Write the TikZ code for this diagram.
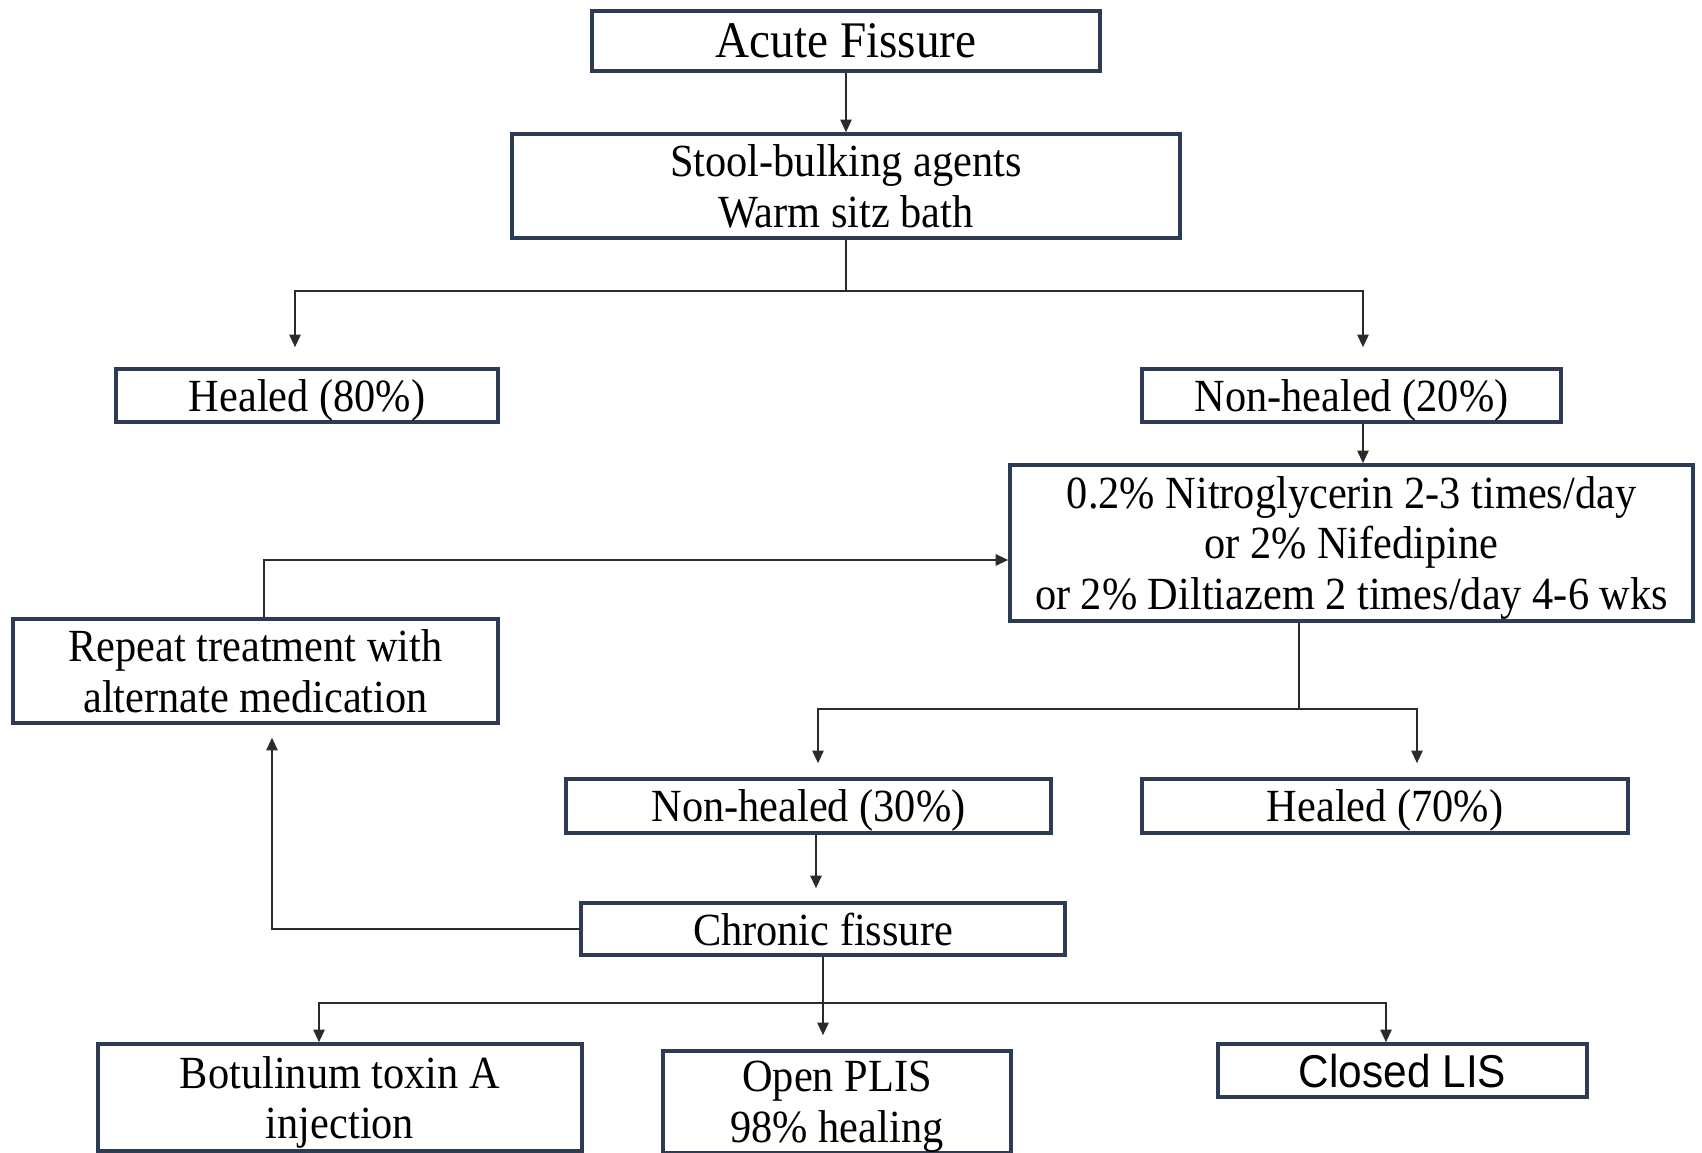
\documentclass[tikz,border=0pt]{standalone}
\usepackage{fontspec}
\setmainfont{Liberation Serif}[FakeStretch=0.92]
\setsansfont{Liberation Sans}[FakeStretch=0.92]
\usepackage{tikz}
\usetikzlibrary{positioning, arrows.meta}
\definecolor{boxE}{HTML}{2E3B55}
\definecolor{lineG}{HTML}{2B2B2B}

\begin{document}
\begin{tikzpicture}[font=\fontsize{13.1}{14.4}\selectfont,
  fbox/.style={draw=boxE, fill=white, line width=1pt, align=center,
    inner sep=0pt, text depth=0pt},
  conn/.style={draw=lineG, line width=0.6pt},
  arr/.style={conn, -{Triangle[length=3.6pt, width=3.2pt]}}]
  \useasboundingbox (0,0) rectangle (17.02,-11.53);
  % boxes: name, centre x, centre y, width, height, text
  \foreach \nm/\x/\y/\w/\h/\txt in {%
    stool/8.46/-1.86/6.68/1.04/{Stool-bulking agents\\Warm sitz bath},%
    heal80/3.07/-3.955/3.82/0.53/{Healed (80\%)},%
    non20/13.515/-3.955/4.19/0.53/{Non-healed (20\%)},%
    nitro/13.515/-5.43/6.83/1.56/{0.2\% Nitroglycerin 2-3 times/day\\or 2\% Nifedipine\\or 2\% Diltiazem 2 times/day 4-6 wks},%
    repeat/2.555/-6.71/4.85/1.04/{Repeat treatment with\\alternate medication},%
    non30/8.085/-8.06/4.85/0.54/{Non-healed (30\%)},%
    heal70/13.85/-8.06/4.86/0.54/{Healed (70\%)},%
    chronic/8.23/-9.29/4.84/0.52/{Chronic fissure},%
    botox/3.40/-10.975/4.84/1.07/{Botulinum toxin A\\injection},%
    plis/8.37/-11.02/3.48/1.02/{Open PLIS\\98\% healing}}{%
      \node[fbox, minimum width=\w cm, minimum height=\h cm] (\nm) at (\x,\y) {\txt};
  }
  \node[fbox, minimum width=5.08cm, minimum height=0.60cm,
        font=\fontsize{14.6}{16}\selectfont] (acute) at (8.46,-0.41) {Acute Fissure};
  \node[fbox, minimum width=3.69cm, minimum height=0.53cm,
        font=\sffamily\fontsize{13.1}{14.4}\selectfont] (closed) at (14.025,-10.705) {Closed LIS};
  % first step
  \draw[arr] (acute) -- (stool);
  \coordinate (fork1) at ([yshift=-0.51cm]stool.south);
  \draw[conn] (stool.south) -- (fork1);
  \draw[arr, shorten >=0.2cm] (fork1) -| ([xshift=-1.2mm]heal80.north);
  \draw[arr, shorten >=0.2cm] (fork1) -| ([xshift=1.15mm]non20.north);
  \draw[arr] ([xshift=1.15mm]non20.south) -- ([xshift=1.15mm]nitro.north);
  % repeat loop
  \draw[arr] ([xshift=0.85mm]repeat.north) |- ([yshift=-1.7mm]nitro.west);
  % topical treatment outcome
  \coordinate (fork2) at ([xshift=-5.25mm, yshift=-0.86cm]nitro.south);
  \draw[conn] ([xshift=-5.25mm]nitro.south) -- (fork2);
  \draw[arr, shorten >=1.4mm] (fork2) -| ([xshift=0.95mm]non30.north);
  \draw[arr, shorten >=1.4mm] (fork2) -| ([xshift=3.2mm]heal70.north);
  \draw[arr, shorten >=1.3mm] ([xshift=0.75mm]non30.south)
    -- ([xshift=0.75mm]non30.south |- chronic.north);
  \draw[arr, shorten >=1.3mm] (chronic.west) -| ([xshift=1.65mm]repeat.south);
  % chronic fissure options
  \coordinate (fork3) at ([yshift=-0.46cm]chronic.south);
  \draw[arr, shorten >=1.4mm] (chronic.south) -- (chronic.south |- plis.north);
  \draw[arr] (fork3) -| ([xshift=-2.1mm]botox.north);
  \draw[arr] (fork3) -| ([xshift=-1.65mm]closed.north);
\end{tikzpicture}
\end{document}
